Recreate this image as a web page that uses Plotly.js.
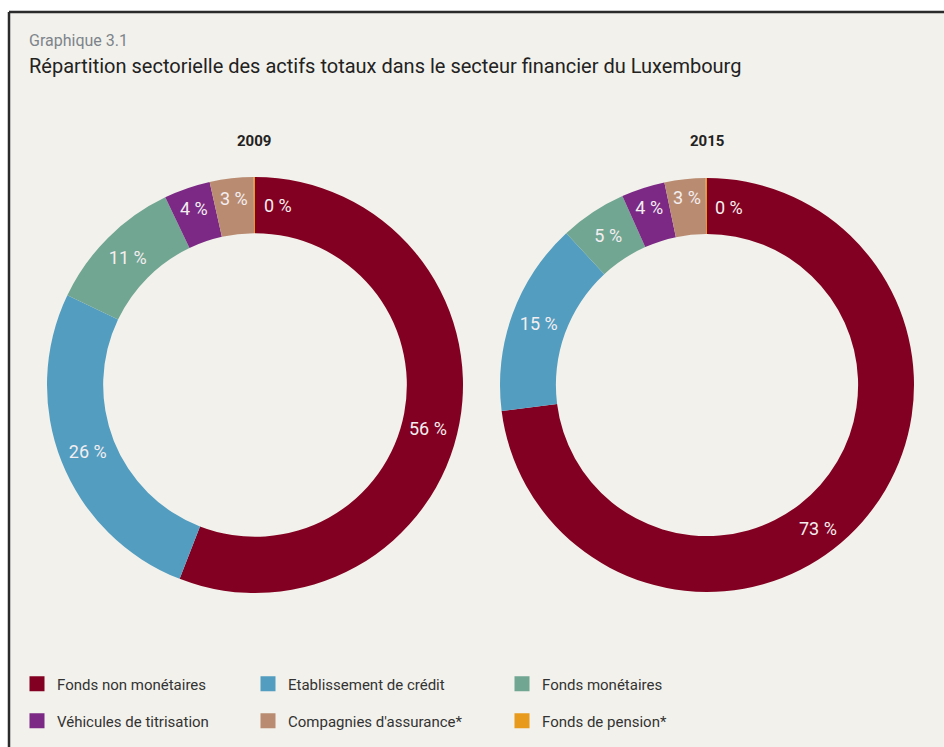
<!DOCTYPE html>
<html><head><meta charset="utf-8">
<script src="https://cdn.plot.ly/plotly-3.0.1.min.js"></script>
<style>html,body{margin:0;padding:0;background:#fff;}#chart{width:944px;height:747px;}</style>
</head><body><div id="chart"></div>
<script>
const categories = ["Fonds non monétaires","Etablissement de crédit","Fonds monétaires","Véhicules de titrisation","Compagnies d'assurance*","Fonds de pension*"];
const colors = ["#820021","#529dc0","#71a693","#7b2985","#b98c72","#e89a1c"];
const values2009 = [55.9, 26.2, 10.8, 3.6, 3.4, 0.1];
const values2015 = [73.0, 15.1, 5.2, 3.4, 3.2, 0.1];
const labels2009 = ["56 %","26 %","11 %","4 %","3 %","0 %"];
const labels2015 = ["73 %","15 %","5 %","4 %","3 %","0 %"];
const years = ["2009","2015"];

const W = 944, H = 747;
const px = v => v / W, py = v => 1 - v / H;
const textFont = {family: "Roboto, sans-serif", size: 18, color: "#f4eef0"};

// slices whose labels are placed as separate annotations (largest slice and the 0 % slice)
const annotated = [0, 5];

function pieTrace(vals, labs, x0, x1, y0, y1) {
  return {
    type: "pie", values: vals, labels: categories, sort: false, direction: "clockwise", rotation: 0,
    hole: 0.73, showlegend: false,
    text: labs.map((t, i) => annotated.includes(i) ? "" : t),
    textinfo: "text", textposition: "inside", insidetextorientation: "horizontal",
    insidetextfont: textFont,
    marker: {colors: colors, line: {width: 0}},
    domain: {x: [px(x0), px(x1)], y: [py(y1), py(y0)]},
    automargin: false, hoverinfo: "label+percent"
  };
}

const data = [
  pieTrace(values2009, labels2009, 47, 463, 177, 593),
  pieTrace(values2015, labels2015, 500, 914, 178, 592)
];

const legX = [17, 248, 502];
const legY = [684, 721];
const layoutLegends = {};
categories.forEach((c, i) => {
  const key = i === 0 ? "legend" : "legend" + (i + 1);
  data.push({
    type: "scatter", x: [null], y: [null], mode: "markers", name: c,
    marker: {symbol: "square", size: 15, color: colors[i]},
    legend: key, hoverinfo: "skip"
  });
  layoutLegends[key] = {
    x: px(legX[i % 3]), y: py(legY[Math.floor(i / 3)]), xanchor: "left", yanchor: "middle",
    bgcolor: "rgba(0,0,0,0)", font: {family: "Roboto, sans-serif", size: 15, color: "#333"},
    itemclick: false, itemdoubleclick: false
  };
});

function ann(text, x, y, font, xanchor) {
  return {text: text, xref: "paper", yref: "paper", x: px(x), y: py(y), xanchor: xanchor || "center",
          yanchor: "middle", showarrow: false, font: font};
}
const yearFont = {family: "Roboto, sans-serif", size: 15, color: "#222"};
const annotations = [
  ann("Graphique 3.1", 27, 40, {family: "Roboto, sans-serif", size: 16, color: "#7d848b"}, "left"),
  ann("Répartition sectorielle des actifs totaux dans le secteur financier du Luxembourg", 27, 66,
      {family: "Roboto, sans-serif", size: 20, color: "#222"}, "left"),
  ann("<b>" + years[0] + "</b>", 254, 141, yearFont),
  ann("<b>" + years[1] + "</b>", 707, 141, yearFont),
  ann(labels2009[0], 428, 428, textFont),
  ann(labels2015[0], 818, 528, textFont),
  ann(labels2009[5], 278, 205, textFont),
  ann(labels2015[5], 729, 207, textFont)
];

const layout = Object.assign({
  width: W, height: H,
  margin: {l: 0, r: 0, t: 0, b: 0},
  paper_bgcolor: "#ffffff", plot_bgcolor: "rgba(0,0,0,0)",
  xaxis: {visible: false}, yaxis: {visible: false},
  shapes: [
    {type: "rect", xref: "paper", yref: "paper", x0: px(9), x1: 1, y0: 0, y1: py(12), fillcolor: "#f2f1eb", line: {width: 0}, layer: "below"},
    {type: "line", xref: "paper", yref: "paper", x0: px(9), x1: 1, y0: py(12), y1: py(12), line: {color: "#2b2b2b", width: 2.5}},
    {type: "line", xref: "paper", yref: "paper", x0: px(9), x1: px(9), y0: 0, y1: py(12), line: {color: "#2b2b2b", width: 2.5}}
  ],
  annotations: annotations
}, layoutLegends);

Plotly.newPlot("chart", data, layout, {staticPlot: true, displayModeBar: false});
</script></body></html>
